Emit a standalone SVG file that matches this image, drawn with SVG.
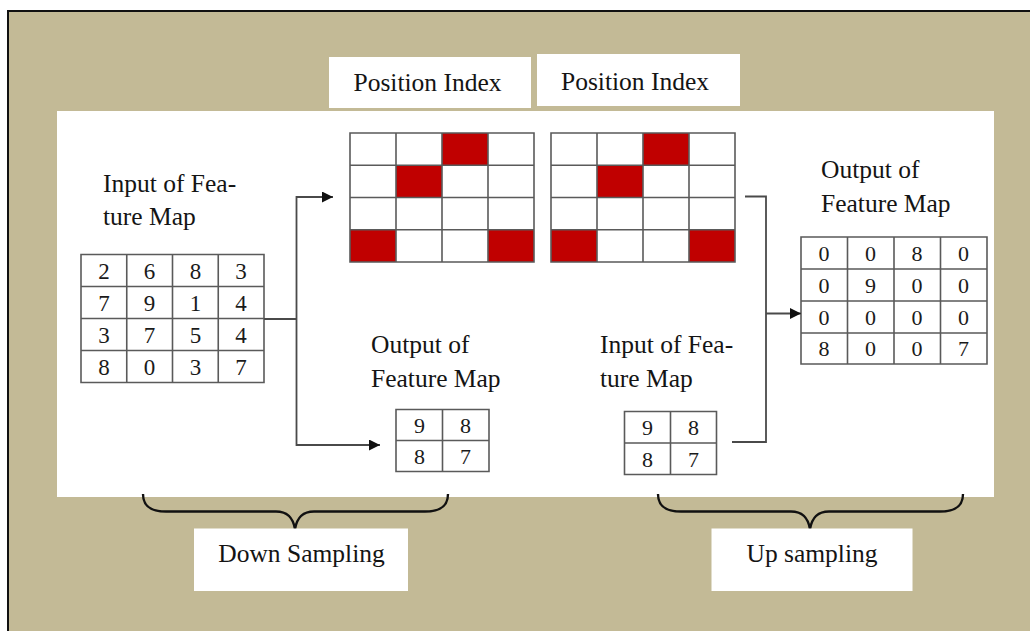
<svg xmlns="http://www.w3.org/2000/svg" width="1030" height="631" viewBox="0 0 1030 631">
<style>
.lbl{font-family:"Liberation Serif","Times New Roman",serif;font-size:25.5px;fill:#141414}
.dg{font-family:"Liberation Serif","Times New Roman",serif;font-size:23px;fill:#1a1a1a;text-anchor:middle}
.sd{font-family:"Liberation Serif","Times New Roman",serif;font-size:22px;fill:#1a1a1a;text-anchor:middle}
.gl{fill:none;stroke:#5a5a5a;stroke-width:1.6}
.red{fill:#C00000}
.con{fill:none;stroke:#4a4a4a;stroke-width:1.8}
.brace{fill:none;stroke:#111;stroke-width:2.4}
.box{fill:#fff}
</style>
<defs>
<marker id="ah" markerUnits="userSpaceOnUse" markerWidth="12" markerHeight="11" refX="11" refY="5.5" orient="auto">
<path d="M0,0 L11,5.5 L0,11 z" fill="#111"/>
</marker>
</defs>
<rect x="0" y="0" width="1030" height="631" fill="#fff"/>
<rect x="8" y="11" width="1030" height="630" fill="#C3BA96" stroke="#111" stroke-width="2"/>
<rect x="57" y="111" width="937" height="386" fill="#fff"/>

<g id="pi-label-1">
<rect class="box" x="329" y="57" width="202" height="51"/>
<text class="lbl" x="427.5" y="90.5" text-anchor="middle">Position Index</text>
</g>
<g id="pi-label-2">
<rect class="box" x="537" y="54" width="203" height="52"/>
<text class="lbl" x="635" y="89.5" text-anchor="middle">Position Index</text>
</g>

<g id="input-map">
<text class="lbl" x="103" y="191.5">Input of Fea-</text>
<text class="lbl" x="103" y="225">ture Map</text>
<path class="gl" d="M81,254.5 H264 V382.5 H81 Z M126.75,254.5 V382.5 M172.5,254.5 V382.5 M218.25,254.5 V382.5 M81,286.5 H264 M81,318.5 H264 M81,350.5 H264"/>
<text class="dg" x="104" y="279">2</text><text class="dg" x="149.6" y="279">6</text><text class="dg" x="195.4" y="279">8</text><text class="dg" x="241.1" y="279">3</text>
<text class="dg" x="104" y="311">7</text><text class="dg" x="149.6" y="311">9</text><text class="dg" x="195.4" y="311">1</text><text class="dg" x="241.1" y="311">4</text>
<text class="dg" x="104" y="343">3</text><text class="dg" x="149.6" y="343">7</text><text class="dg" x="195.4" y="343">5</text><text class="dg" x="241.1" y="343">4</text>
<text class="dg" x="104" y="375">8</text><text class="dg" x="149.6" y="375">0</text><text class="dg" x="195.4" y="375">3</text><text class="dg" x="241.1" y="375">7</text>
</g>

<g id="pi-grid-1">
<rect x="350" y="133" width="184" height="129" fill="#fff"/>
<rect class="red" x="442" y="133" width="46" height="32.25"/>
<rect class="red" x="396" y="165.25" width="46" height="32.25"/>
<rect class="red" x="350" y="229.75" width="46" height="32.25"/>
<rect class="red" x="488" y="229.75" width="46" height="32.25"/>
<path class="gl" d="M350,133 H534 V262 H350 Z M396,133 V262 M442,133 V262 M488,133 V262 M350,165.25 H534 M350,197.5 H534 M350,229.75 H534"/>
</g>

<g id="pi-grid-2">
<rect x="551" y="133" width="184" height="129" fill="#fff"/>
<rect class="red" x="643" y="133" width="46" height="32.25"/>
<rect class="red" x="597" y="165.25" width="46" height="32.25"/>
<rect class="red" x="551" y="229.75" width="46" height="32.25"/>
<rect class="red" x="689" y="229.75" width="46" height="32.25"/>
<path class="gl" d="M551,133 H735 V262 H551 Z M597,133 V262 M643,133 V262 M689,133 V262 M551,165.25 H735 M551,197.5 H735 M551,229.75 H735"/>
</g>

<g id="down-output">
<text class="lbl" x="371" y="352.5">Output of</text>
<text class="lbl" x="371" y="386.5">Feature Map</text>
<path class="gl" d="M396,409.5 H489 V471.5 H396 Z M442.5,409.5 V471.5 M396,440.5 H489"/>
<text class="sd" x="419.5" y="432.5">9</text><text class="sd" x="465.5" y="432.5">8</text>
<text class="sd" x="419.5" y="463.5">8</text><text class="sd" x="465.5" y="463.5">7</text>
</g>

<g id="up-input">
<text class="lbl" x="600" y="352.5">Input of Fea-</text>
<text class="lbl" x="600" y="386.5">ture Map</text>
<path class="gl" d="M624.5,411.5 H716.5 V474.5 H624.5 Z M670.5,411.5 V474.5 M624.5,443 H716.5"/>
<text class="sd" x="647.5" y="435">9</text><text class="sd" x="693.5" y="435">8</text>
<text class="sd" x="647.5" y="466.5">8</text><text class="sd" x="693.5" y="466.5">7</text>
</g>

<g id="up-output">
<text class="lbl" x="821" y="178">Output of</text>
<text class="lbl" x="821" y="212">Feature Map</text>
<path class="gl" d="M801,237 H987 V364 H801 Z M847.5,237 V364 M894,237 V364 M940.5,237 V364 M801,269 H987 M801,301 H987 M801,333 H987"/>
<text class="sd" x="824" y="261">0</text><text class="sd" x="870.5" y="261">0</text><text class="sd" x="917" y="261">8</text><text class="sd" x="963.5" y="261">0</text>
<text class="sd" x="824" y="293">0</text><text class="sd" x="870.5" y="293">9</text><text class="sd" x="917" y="293">0</text><text class="sd" x="963.5" y="293">0</text>
<text class="sd" x="824" y="325">0</text><text class="sd" x="870.5" y="325">0</text><text class="sd" x="917" y="325">0</text><text class="sd" x="963.5" y="325">0</text>
<text class="sd" x="824" y="356">8</text><text class="sd" x="870.5" y="356">0</text><text class="sd" x="917" y="356">0</text><text class="sd" x="963.5" y="356">7</text>
</g>

<g id="connectors">
<path class="con" d="M264,319 H296.5"/>
<path class="con" d="M296.5,319 V197 H333" marker-end="url(#ah)"/>
<path class="con" d="M296.5,319 V445 H380" marker-end="url(#ah)"/>
<path class="con" d="M745,196.5 H766 V442 H732"/>
<path class="con" d="M766,313.5 H801" marker-end="url(#ah)"/>
</g>

<g id="down-sampling">
<path class="brace" d="M143,494 C143,506 150,511.5 166,511.5 L276,511.5 C288,511.5 293,518 295,529 C297,518 302,511.5 314,511.5 L425,511.5 C441,511.5 448,506 448,494"/>
<rect class="box" x="194" y="528.5" width="214" height="62.5"/>
<text class="lbl" x="301.5" y="561.5" text-anchor="middle">Down Sampling</text>
</g>

<g id="up-sampling">
<path class="brace" d="M658,494 C658,506 665,511.5 681,511.5 L791,511.5 C803,511.5 808,518 810,529 C812,518 817,511.5 829,511.5 L940,511.5 C956,511.5 963,506 963,494"/>
<rect class="box" x="711.5" y="528.5" width="201" height="62.5"/>
<text class="lbl" x="812" y="561.5" text-anchor="middle">Up sampling</text>
</g>
</svg>
